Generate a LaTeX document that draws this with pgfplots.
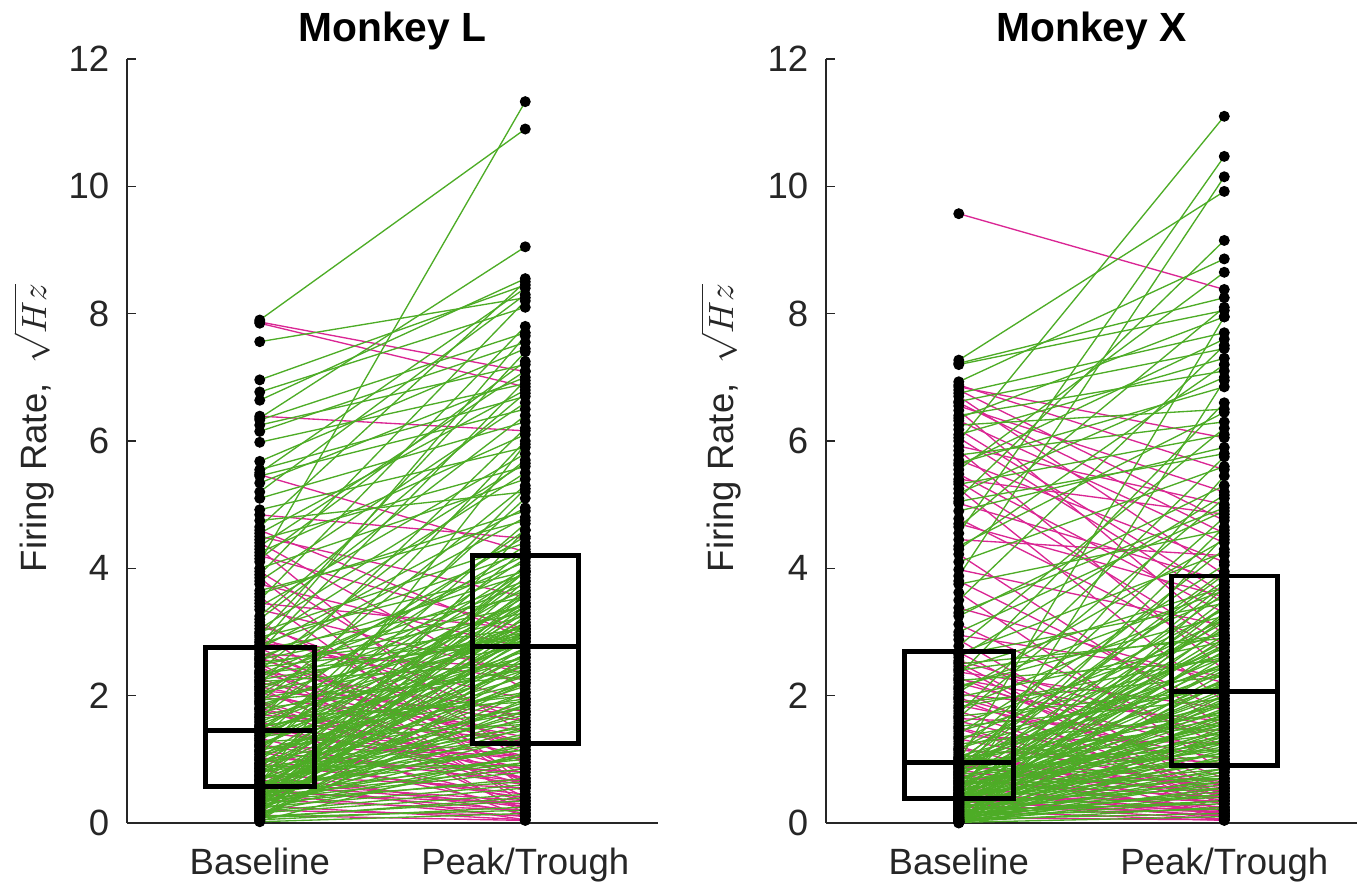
\documentclass[border=0pt]{standalone}
\usepackage{fontspec}
\setmainfont{Liberation Sans}
\usepackage{pgfplots}
\usepackage{pgfplotstable}
\pgfplotsset{compat=1.18}
\usepgfplotslibrary{statistics}
\definecolor{upgreen}{RGB}{77,172,38}
\definecolor{downmag}{RGB}{218,38,148}
\definecolor{axgray}{RGB}{38,38,38}

% Monkey L: increases (green)
\pgfplotstableread{
b p
7.90 10.90
7.56 8.25
6.96 8.45
6.77 8.10
6.64 8.55
6.36 9.05
6.33 7.70
6.25 7.20
6.15 7.55
5.98 6.90
5.68 7.45
5.55 6.70
5.50 8.40
5.45 6.50
5.34 7.00
5.20 8.30
5.10 6.30
4.92 5.90
4.65 8.50
4.55 6.80
4.45 5.60
4.35 7.10
4.25 6.10
4.10 11.33
4.00 5.40
3.90 8.20
3.80 6.60
3.60 4.90
3.50 7.80
3.40 5.80
3.20 6.40
3.00 4.40
2.95 7.40
2.85 5.50
2.80 4.25
2.70 6.95
2.62 3.90
2.55 4.80
2.48 3.30
2.40 5.70
2.33 4.10
2.25 2.95
2.18 6.20
2.10 3.75
2.02 4.50
1.95 2.80
1.90 5.30
1.82 3.45
1.75 4.35
1.68 2.60
1.62 6.00
1.55 3.10
1.50 2.45
1.45 4.00
1.40 3.00
1.35 1.95
1.30 5.10
1.25 2.70
1.20 3.55
1.15 1.80
1.10 4.70
1.05 2.30
1.00 3.20
0.95 1.60
0.90 2.90
0.86 4.30
0.82 1.45
0.78 2.15
0.74 3.85
0.70 1.30
0.66 2.50
0.62 5.95
0.58 1.70
0.55 2.05
0.52 1.20
0.49 3.40
0.46 0.95
0.43 1.55
0.40 2.65
0.37 0.80
0.34 4.05
0.31 1.35
0.28 2.20
0.25 0.60
0.22 1.05
0.19 3.00
0.16 0.45
0.13 1.85
0.10 0.35
0.07 2.40
0.05 0.25
0.03 1.10
0.02 0.15
0.56 2.85
0.54 3.15
0.51 1.90
0.50 3.65
0.48 1.40
0.47 2.55
0.44 3.95
0.42 0.85
0.41 2.95
0.39 1.65
0.38 3.35
0.35 1.05
0.33 2.75
0.32 3.80
0.30 0.70
0.29 2.25
0.26 3.50
0.24 1.50
0.21 2.90
0.18 0.55
0.15 3.25
0.11 1.95
0.08 0.40
0.04 2.60
1.43 3.05
1.38 2.05
1.32 3.70
1.27 1.55
1.23 2.85
1.18 3.40
1.08 2.40
1.03 3.60
0.98 1.75
0.94 3.15
0.89 0.90
0.85 2.95
0.80 1.35
0.76 3.30
0.72 1.15
0.68 2.20
0.65 3.95
0.60 2.65
0.59 1.00
2.72 3.55
2.52 3.05
2.45 2.90
2.30 3.80
2.22 2.50
2.15 3.25
2.00 3.65
1.93 2.30
1.86 3.10
1.72 2.95
1.65 1.90
1.58 3.45
1.53 2.00
1.47 4.15
0.57 1.15
0.53 2.35
0.45 1.75
0.40 3.10
0.36 0.65
0.31 2.50
0.27 1.25
0.23 4.60
0.17 0.95
0.14 2.05
0.09 0.20
0.06 3.60
1.37 2.60
1.29 3.95
1.14 2.20
1.07 5.25
0.92 3.45
0.87 1.50
0.81 2.75
0.67 3.00
0.61 1.85
2.74 4.95
2.57 3.40
2.35 2.85
2.24 4.20
2.04 3.00
1.79 2.40
1.66 4.60
4.75 5.20
4.15 7.25
3.65 4.75
3.25 6.75
3.05 5.65
2.92 3.95
2.78 7.65
}\greenL

% Monkey L: decreases (magenta)
\pgfplotstableread{
b p
7.87 7.09
7.85 6.85
6.39 6.16
5.47 4.26
4.84 4.47
4.50 3.55
4.40 2.10
4.30 0.90
4.20 3.05
3.95 1.40
3.75 2.75
3.55 0.55
3.35 2.35
3.15 1.15
2.98 0.30
2.88 1.95
2.75 0.75
2.65 2.45
2.58 1.25
2.50 0.40
2.38 1.75
2.28 0.65
2.20 1.60
2.12 0.20
2.05 1.05
1.98 1.45
1.88 0.50
1.80 0.85
1.70 1.30
1.60 0.10
1.52 0.70
1.42 1.00
1.33 0.35
1.22 0.60
1.12 0.25
1.02 0.80
0.93 0.45
0.84 0.15
0.75 0.55
0.68 0.05
0.60 0.30
0.53 0.20
0.45 0.10
0.36 0.20
0.27 0.05
0.20 0.12
0.12 0.04
1.13 0.65
0.63 0.35
2.60 0.95
2.36 1.20
2.08 1.70
1.78 0.60
0.49 0.30
1.44 0.85
1.21 1.05
0.99 0.40
0.73 0.25
2.67 1.10
2.46 0.15
2.14 1.35
1.91 0.70
1.51 1.05
4.60 2.90
3.85 0.60
3.45 3.05
3.10 1.60
2.83 2.25
}\magL

% Monkey X: increases (green)
\pgfplotstableread{
b p
7.27 9.92
7.22 8.25
7.20 8.05
6.93 8.86
6.75 7.70
6.62 7.45
6.40 7.10
6.25 6.50
6.10 7.30
6.00 11.10
5.78 6.30
5.62 7.60
5.55 8.65
5.32 6.10
5.18 7.00
5.10 9.15
4.90 5.90
4.65 8.10
4.55 10.47
4.35 6.45
4.10 5.60
3.88 10.15
3.75 4.60
3.50 7.50
3.25 5.30
3.00 4.90
2.78 6.20
2.64 3.45
2.60 5.15
2.50 2.90
2.42 3.70
2.32 6.60
2.24 2.55
2.15 3.25
2.06 4.45
1.98 2.85
1.90 2.30
1.80 3.55
1.72 5.75
1.68 2.10
1.56 3.00
1.52 1.95
1.44 2.65
1.40 4.05
1.28 3.35
1.24 1.70
1.17 2.45
1.11 4.80
1.05 2.20
1.03 1.55
0.99 3.80
0.98 1.15
0.97 7.95
0.96 2.75
0.95 1.85
0.95 4.30
0.93 2.35
0.91 1.40
0.90 3.95
0.87 2.60
0.85 1.05
0.82 3.15
0.81 1.65
0.78 2.15
0.76 1.25
0.75 5.45
0.72 3.60
0.70 1.90
0.69 0.95
0.67 2.80
0.64 1.50
0.63 3.40
0.61 1.15
0.58 2.50
0.57 1.75
0.55 4.65
0.52 3.05
0.51 1.30
0.50 2.00
0.47 2.25
0.46 1.60
0.45 3.75
0.44 0.85
0.43 1.00
0.42 2.95
0.40 1.85
0.40 6.95
0.39 2.40
0.39 1.20
0.38 0.70
0.38 3.20
0.38 1.45
0.38 2.70
0.38 1.70
0.38 0.80
0.36 2.10
0.35 0.95
0.33 1.55
0.32 0.55
0.31 3.50
0.29 1.10
0.28 0.40
0.27 2.45
0.26 1.80
0.24 0.75
0.23 1.35
0.22 2.90
0.21 0.30
0.20 1.65
0.18 0.60
0.17 2.20
0.16 1.00
0.15 0.45
0.14 4.50
0.13 1.25
0.12 0.22
0.11 3.10
0.10 0.85
0.09 1.95
0.08 0.50
0.08 2.60
0.07 1.45
0.06 0.15
0.06 0.70
0.05 1.70
0.05 3.30
0.04 0.35
0.04 1.05
0.03 0.65
0.03 2.35
0.03 1.50
0.02 0.25
0.02 0.80
0.02 1.15
0.02 2.00
0.01 0.10
0.01 0.55
0.01 2.80
0.01 1.30
0.01 0.45
0.00 3.70
0.37 1.60
0.29 2.70
0.25 0.65
0.21 1.30
0.18 3.40
0.14 0.35
0.11 1.90
0.06 2.25
0.04 0.95
0.02 0.55
0.01 1.40
0.94 2.50
0.86 1.75
0.80 3.90
0.71 1.35
0.66 2.85
0.62 0.70
0.56 1.55
0.52 3.25
0.43 2.05
0.39 1.10
2.66 4.25
2.40 2.95
2.12 3.65
1.82 2.60
1.66 5.10
1.34 2.15
1.16 3.20
6.36 7.95
5.65 6.85
5.05 5.80
4.30 7.20
3.30 4.95
}\greenX

% Monkey X: decreases (magenta)
\pgfplotstableread{
b p
9.57 8.38
6.88 5.55
6.80 4.75
6.70 3.90
6.55 5.20
6.48 2.95
6.32 4.40
6.18 3.60
5.92 5.00
5.85 2.40
5.70 4.10
5.48 3.30
5.40 4.85
5.25 1.90
5.02 3.80
4.78 2.70
4.45 4.20
4.22 1.50
3.98 3.10
3.62 0.80
3.38 2.20
3.12 1.20
2.88 0.40
2.68 0.55
2.55 1.35
2.46 0.25
2.37 1.80
2.28 0.70
2.20 1.10
2.10 0.15
2.02 1.60
1.94 0.45
1.85 1.00
1.76 0.30
1.64 1.45
1.60 0.60
1.48 0.20
1.36 1.25
1.32 0.50
1.20 0.10
1.14 0.95
1.08 0.35
1.01 0.65
0.96 0.08
0.92 0.30
0.88 0.60
0.84 0.12
0.79 0.50
0.73 0.20
0.66 0.40
0.60 0.05
0.54 0.25
0.48 0.15
0.41 0.35
0.38 0.10
0.34 0.12
0.30 0.06
0.25 0.18
0.19 0.04
0.33 0.20
0.08 0.05
0.90 0.45
0.76 0.15
0.47 0.20
2.52 0.35
2.26 1.50
1.96 0.85
1.50 0.40
1.02 0.55
6.85 6.05
6.60 4.55
6.05 3.45
5.36 2.80
4.70 3.55
3.80 1.75
2.95 2.30
}\magX

\pgfplotsset{
  panel/.style={
    scale only axis, width=53.1mm, height=76.4mm,
    anchor=south west,
    xmin=0.5, xmax=2.5, ymin=0, ymax=12,
    axis x line=bottom, axis y line=left,
    axis line style={-, draw=axgray, line width=0.35pt},
    xtick={1,2}, xticklabels={Baseline,Peak/Trough},
    xtick style={draw=none},
    ytick={0,2,4,6,8,10,12},
    ytick style={draw=axgray, line width=0.35pt},
    tick align=inside, major tick length=0.9mm,
    /pgf/number format/assume math mode=true,
    ticklabel style={font=\fontsize{10.4}{12}\selectfont, text=axgray},
    xticklabel style={anchor=base, inner sep=0pt, yshift=-5.2mm},
    yticklabel style={anchor=east, inner sep=0pt, xshift=-1.7mm},
    every axis title/.style={at={(0.5,1)}, anchor=base, yshift=1.7mm, inner sep=0pt,
      font=\bfseries\fontsize{11.6}{13}\selectfont},
    clip=false,
  },
  pairline/.style={line width=0.38pt},
  dots/.style={only marks, mark=*, mark size=1.35pt, black, mark options={draw=black, fill=black}},
  bx/.style={draw=black, line width=1.4pt, mark=none},
}

\begin{document}
\begin{tikzpicture}
\path[use as bounding box] (0,0) rectangle (136.9mm,88.4mm);

\begin{axis}[panel, at={(12.7mm,6.1mm)}, title={Monkey L}]
\addplot[downmag, pairline, quiver={u=1, v=\thisrow{p}-\thisrow{b}}] table[x expr=1, y=b] {\magL};
\addplot[upgreen, pairline, quiver={u=1, v=\thisrow{p}-\thisrow{b}}] table[x expr=1, y=b] {\greenL};
\addplot[bx, boxplot prepared={draw direction=y, draw position=1, lower whisker=0.58, lower quartile=0.58, median=1.45, upper quartile=2.75, upper whisker=2.75, box extend=0.41, whisker extend=0}] coordinates {};
\addplot[bx, boxplot prepared={draw direction=y, draw position=2, lower whisker=1.25, lower quartile=1.25, median=2.77, upper quartile=4.20, upper whisker=4.20, box extend=0.4, whisker extend=0}] coordinates {};
\addplot[dots] table[x expr=1, y=b] {\greenL};
\addplot[dots] table[x expr=1, y=b] {\magL};
\addplot[dots] table[x expr=2, y=p] {\greenL};
\addplot[dots] table[x expr=2, y=p] {\magL};
\end{axis}

\begin{axis}[panel, at={(82.6mm,6.1mm)}, title={Monkey X}]
\addplot[downmag, pairline, quiver={u=1, v=\thisrow{p}-\thisrow{b}}] table[x expr=1, y=b] {\magX};
\addplot[upgreen, pairline, quiver={u=1, v=\thisrow{p}-\thisrow{b}}] table[x expr=1, y=b] {\greenX};
\addplot[bx, boxplot prepared={draw direction=y, draw position=1, lower whisker=0.38, lower quartile=0.38, median=0.95, upper quartile=2.70, upper whisker=2.70, box extend=0.41, whisker extend=0}] coordinates {};
\addplot[bx, boxplot prepared={draw direction=y, draw position=2, lower whisker=0.90, lower quartile=0.90, median=2.07, upper quartile=3.88, upper whisker=3.88, box extend=0.4, whisker extend=0}] coordinates {};
\addplot[dots] table[x expr=1, y=b] {\greenX};
\addplot[dots] table[x expr=1, y=b] {\magX};
\addplot[dots] table[x expr=2, y=p] {\greenX};
\addplot[dots] table[x expr=2, y=p] {\magX};
\end{axis}

\node[rotate=90, anchor=base, inner sep=0pt, font=\fontsize{10.4}{12}\selectfont, text=axgray] at (4.6mm,45.6mm) {Firing Rate,\ \ $\sqrt{Hz}$};
\node[rotate=90, anchor=base, inner sep=0pt, font=\fontsize{10.4}{12}\selectfont, text=axgray] at (73.3mm,45.6mm) {Firing Rate,\ \ $\sqrt{Hz}$};
\end{tikzpicture}
\end{document}
